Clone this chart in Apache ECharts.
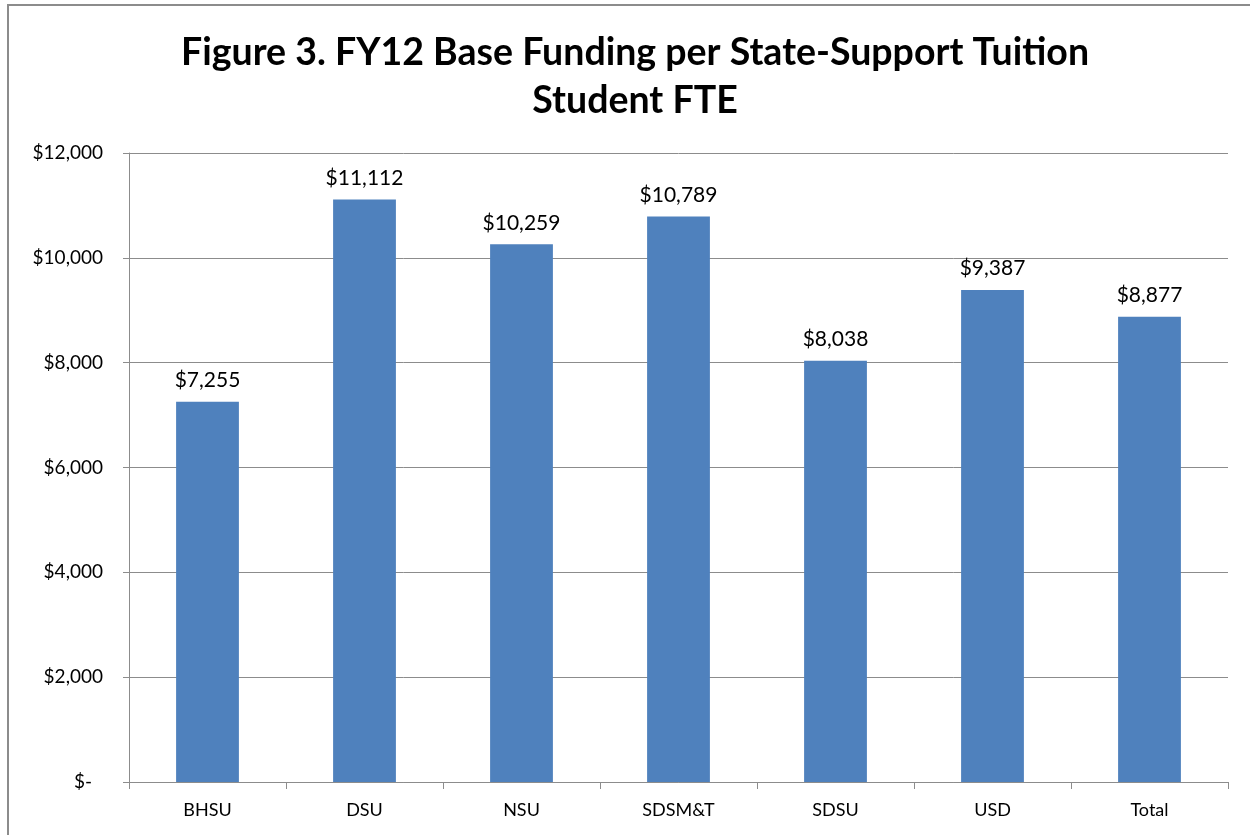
<!DOCTYPE html>
<html>
<head>
<meta charset="utf-8">
<script src="https://cdn.jsdelivr.net/npm/echarts@6/dist/echarts.min.js"></script>
<style>
  html, body { margin: 0; padding: 0; background: #fff; }
  #chart { width: 1250px; height: 835px; }
</style>
</head>
<body>
<div id="chart"></div>
<script>
var categories = ["BHSU", "DSU", "NSU", "SDSM&T", "SDSU", "USD", "Total"];
var funding = [7255, 11112, 10259, 10789, 8038, 9387, 8877];
var yTicks = [0, 2000, 4000, 6000, 8000, 10000, 12000];

function money(v) {
  return "$" + v.toLocaleString("en-US");
}

var chart = echarts.init(document.getElementById("chart"));
var font = "Lato, 'Open Sans', sans-serif";

var option = {
  animation: false,
  title: {
    text: "Figure 3. FY12 Base Funding per State-Support Tuition\nStudent FTE",
    left: 630,
    textAlign: "center",
    top: 24,
    textStyle: {
      fontFamily: font,
      fontWeight: "bold",
      fontSize: 37.5,
      lineHeight: 48,
      color: "#000"
    }
  },
  graphic: [{
    type: "rect",
    shape: { x: 8, y: 5, width: 1260, height: 850 },
    style: { fill: "none", stroke: "#8c8c8c", lineWidth: 2 },
    silent: true
  }],
  grid: { left: 129, right: 22, top: 153, bottom: 53 },
  xAxis: {
    type: "category",
    data: categories,
    axisLine: { lineStyle: { color: "#8c8c8c", width: 1 } },
    axisTick: { show: true, length: 7, lineStyle: { color: "#8c8c8c" } },
    axisLabel: { fontFamily: font, fontSize: 18, color: "#000", margin: 19 }
  },
  yAxis: {
    type: "value",
    min: yTicks[0],
    max: yTicks[yTicks.length - 1],
    interval: 2000,
    axisLine: { show: true, lineStyle: { color: "#8c8c8c" } },
    axisTick: { show: true, length: 6, lineStyle: { color: "#8c8c8c" } },
    splitLine: { lineStyle: { color: "#8c8c8c", width: 1 } },
    axisLabel: {
      fontFamily: font,
      fontSize: 19,
      color: "#000",
      margin: 26,
      formatter: function (v) {
        return v === 0 ? "{z|$-}" : money(v);
      },
      rich: { z: { fontFamily: font, fontSize: 19, color: "#000", padding: [0, 11, 0, 0] } }
    }
  },
  series: [{
    type: "bar",
    data: funding,
    barWidth: "40%",
    itemStyle: { color: "#4f81bd" },
    label: {
      show: true,
      position: "top",
      distance: 11,
      fontFamily: font,
      fontSize: 21,
      color: "#000",
      formatter: function (p) { return money(p.value); }
    }
  }]
};

chart.setOption(option);
</script>
</body>
</html>
